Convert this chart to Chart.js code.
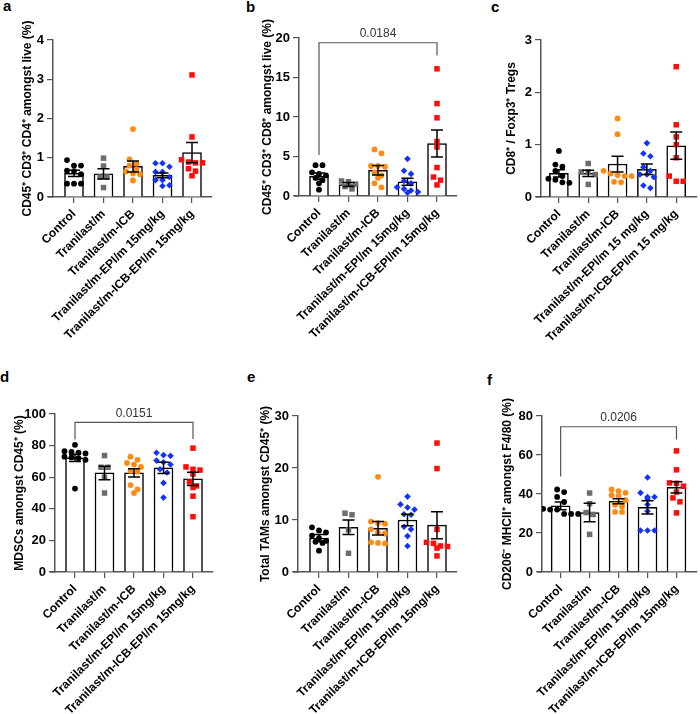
<!DOCTYPE html>
<html><head><meta charset="utf-8">
<script src="https://cdn.jsdelivr.net/npm/chart.js@4.4.1/dist/chart.umd.min.js"></script>
<style>
body{margin:0;background:#fff;width:700px;height:714px;position:relative;overflow:hidden;font-family:"Liberation Sans",Arial,sans-serif;}
.pn{position:absolute;}
.lt{position:absolute;font-family:"Liberation Sans",Arial,sans-serif;font-weight:bold;font-size:15px;line-height:15px;color:#000;}
</style></head><body>
<div class="lt" style="left:3px;top:-2px">a</div>
<div class="lt" style="left:246px;top:-1px">b</div>
<div class="lt" style="left:491px;top:-1px">c</div>
<div class="lt" style="left:0px;top:369px">d</div>
<div class="lt" style="left:247px;top:369px">e</div>
<div class="lt" style="left:487px;top:372px">f</div>
<script>
const FF = '"Liberation Sans", Arial, sans-serif';

// ---------- DATA ----------
const categories = ['Control','Tranilast/m','Tranilast/m-ICB','Tranilast/m-EPI/m 15mg/kg','Tranilast/m-ICB-EPI/m 15mg/kg'];
const categoriesC = ['Control','Tranilast/m','Tranilast/m-ICB','Tranilast/m-EPI/m 15 mg/kg','Tranilast/m-ICB-EPI/m 15 mg/kg'];

const aPoints = [
  [0.94,0.80,0.80,0.67,0.66,0.58,0.34,0.34,0.34],
  [0.99,0.79,0.51,0.51,0.24],
  [1.73,0.96,0.85,0.80,0.70,0.65,0.60,0.58,0.42],
  [0.86,0.86,0.77,0.64,0.64,0.51,0.43,0.43,0.30,0.28],
  [3.11,1.53,0.95,0.89,0.87,0.87,0.72,0.66,0.54]
];
const aMeans = [0.60,0.59,0.78,0.55,1.13];
const aSEM   = [0.08,0.13,0.14,0.06,0.26];

const bPoints = [
  [3.9,3.9,3.0,2.8,2.6,2.3,2.0,1.6,0.8],
  [1.9,1.8,1.5,1.2,0.9],
  [5.9,5.4,3.8,3.8,3.7,3.0,2.6,2.3,1.6,1.1],
  [4.7,3.2,2.8,1.9,1.6,1.1,0.9,0.7,0.5,0.4],
  [16.1,11.7,9.9,6.9,6.2,3.6,2.4,2.0,1.4]
];
const bMeans = [2.5,1.45,3.25,1.8,6.65];
const bSEM   = [0.4,0.25,0.6,0.45,1.7];
const bBracket = {label:'0.0184', y:19.4, leftEnd:5.2, rightEnd:17.8};

const cPoints = [
  [0.88,0.62,0.58,0.50,0.40,0.35,0.33,0.28,0.27],
  [0.64,0.48,0.48,0.43,0.24],
  [1.50,1.20,0.50,0.45,0.42,0.40,0.40,0.29,0.28],
  [1.03,0.83,0.78,0.57,0.50,0.43,0.43,0.38,0.22,0.17],
  [2.49,1.38,1.15,1.00,0.75,0.40,0.30,0.30]
];
const cMeans = [0.45,0.45,0.63,0.53,0.98];
const cSEM   = [0.07,0.06,0.15,0.10,0.26];

const dPoints = [
  [80.5,76.5,76,75.5,75,73,72.5,72,71,52.8],
  [73.7,66.3,66.3,60,50],
  [73,71,69,68,66.5,64,63.5,55,52.3,50],
  [75.5,74,73.5,70.5,69.5,68,65,63,56.4,47.1],
  [78.4,66.5,65,64.5,62,57,54.5,53.5,48,35]
];
const dMeans = [72.2,62.7,62.7,65.9,58.9];
const dSEM   = [2.3,4.3,2.6,3.6,4.2];
const dBracket = {label:'0.0151', y:94.7, leftEnd:83.8, rightEnd:84.2};

const ePoints = [
  [8.6,8.0,7.6,7.0,6.5,6.0,5.8,5.6,4.1],
  [11.3,11.0,8.1,3.6],
  [18.3,9.7,9.4,9.3,8.2,7.6,7.4,5.7,5.6,5.5],
  [14.5,13.0,12.4,12.0,11.1,11.0,8.7,8.2,6.9,5.0],
  [24.8,19.9,8.2,5.7,5.5,5.0,4.9,4.6,3.1]
];
const eMeans = [6.5,8.6,8.4,10.0,9.0];
const eSEM   = [0.7,1.4,1.3,1.1,2.6];

const fPoints = [
  [42.3,41,38.5,35.9,32.4,32,32,29.8,29.8,29.8],
  [40.5,35,30.5,29.5,19.3],
  [42.3,41.5,40.6,39.4,39,36.8,34.5,33.7,30.8,30.8],
  [48.5,40.6,38.5,38.5,37.5,34.6,31.2,21.3,21.3,21.3],
  [62.1,52.4,45.7,45.5,44,41,38,36,30.3]
];
const fMeans = [33.9,30.5,36.3,33.2,43.4];
const fSEM   = [2.0,4.7,1.3,3.4,2.9];
const fBracket = {label:'0.0206', y:74.5, leftEnd:49, rightEnd:68};

// ---------- STYLE / LAYOUT ----------
const groupStyles = [
  {color:'#000000', style:'circle',  r:2.9},
  {color:'#6d6d6d', style:'rect',    r:3.9},
  {color:'#ff8a12', style:'circle',  r:2.9},
  {color:'#1432ff', style:'rectRot', r:3.3},
  {color:'#ff0d0d', style:'rect',    r:3.9}
];

const panels = [
  {x:0,   y:0,   w:235, h:360, L:53,  R:212, T:40,  B:197, cat0:74,  tcx:28,  yMax:4,   yStep:1,  title:'CD45⁺ CD3⁺ CD4⁺ amongst live (%)', cats:categories,  points:aPoints, means:aMeans, sem:aSEM, bracket:null},
  {x:235, y:0,   w:235, h:360, L:299, R:457, T:38,  B:196, cat0:319, tcx:268, yMax:20,  yStep:5,  title:'CD45⁺ CD3⁺ CD8⁺ amongst live (%)', cats:categories,  points:bPoints, means:bMeans, sem:bSEM, bracket:bBracket},
  {x:470, y:0,   w:230, h:360, L:541, R:697, T:40,  B:197, cat0:559, tcx:512, yMax:3,   yStep:1,  title:'CD8⁺ / Foxp3⁺ Tregs',               cats:categoriesC, points:cPoints, means:cMeans, sem:cSEM, bracket:null},
  {x:0,   y:360, w:235, h:354, L:55,  R:213, T:414, B:572, cat0:75,  tcx:20,  yMax:100, yStep:20, title:'MDSCs amongst CD45⁺ (%)',            cats:categories,  points:dPoints, means:dMeans, sem:dSEM, bracket:dBracket},
  {x:235, y:360, w:235, h:354, L:298, R:457, T:416, B:572, cat0:319, tcx:266, yMax:30,  yStep:10, title:'Total TAMs amongst CD45⁺ (%)',       cats:categories,  points:ePoints, means:eMeans, sem:eSEM, bracket:null},
  {x:470, y:360, w:230, h:354, L:542, R:699, T:416, B:572, cat0:561, tcx:508, yMax:80,  yStep:20, title:'CD206⁻ MHCII⁺ amongst F4/80 (%)',    cats:categories,  points:fPoints, means:fMeans, sem:fSEM, bracket:fBracket}
];

const SPACING = 29.5;

function swarm(chart){
  const xs = chart.scales.x, ys = chart.scales.y;
  const ppu = xs.getPixelForValue(1) - xs.getPixelForValue(0);
  const S = 7, TH = 5.5;
  chart.data.datasets.forEach(ds=>{
    if (ds.type !== 'scatter') return;
    const vals = ds.data.map(d=>d.y);
    const idx = vals.map((v,i)=>i).sort((a,b)=>vals[b]-vals[a]);
    const rows = []; let cur = null;
    idx.forEach(i=>{
      const py = ys.getPixelForValue(vals[i]);
      if (cur && Math.abs(py-cur.py0) <= TH) cur.items.push(i);
      else { cur = {py0:py, items:[i]}; rows.push(cur); }
    });
    rows.forEach(r=>{
      const n = r.items.length;
      r.items.forEach((i,j)=>{ ds.data[i] = {x: ds.group + ((j-(n-1)/2)*S)/ppu, y: vals[i]}; });
    });
  });
  chart.update('none');
}

function makeChart(p){
  const div = document.createElement('div');
  div.className = 'pn';
  div.style.left = p.x+'px'; div.style.top = p.y+'px';
  div.style.width = p.w+'px'; div.style.height = p.h+'px';
  const cv = document.createElement('canvas');
  cv.width = p.w; cv.height = p.h;
  cv.style.width = p.w+'px'; cv.style.height = p.h+'px';
  div.appendChild(cv); document.body.appendChild(div);

  const L = p.L - p.x, R = p.R - p.x, T = p.T - p.y, B = p.B - p.y;
  const padLeft = (p.tcx - p.x) - 7.2;
  const yW = L - padLeft;
  const xH = p.h - B;
  const xMin = -(p.cat0 - p.L)/SPACING;
  const xMax = xMin + (R - L)/SPACING;

  const datasets = [{
    type:'bar', data: p.means.map((m,i)=>({x:i,y:m})),
    backgroundColor:'#ffffff', borderColor:'#000000', borderWidth:1.5,
    barThickness:19, order:2
  }];
  p.points.forEach((vals,gi)=>{
    const st = groupStyles[gi];
    datasets.push({
      type:'scatter', group:gi, data: vals.map(v=>({x:gi,y:v})),
      pointStyle:st.style, pointRadius:st.r, pointHoverRadius:st.r,
      pointBackgroundColor:st.color, pointBorderColor:st.color, pointBorderWidth:0,
      order:1
    });
  });

  const extras = {
    id:'extras'+p.x+'_'+p.y,
    afterDatasetsDraw(chart){
      const {ctx, scales:{x,y}} = chart;
      ctx.save(); ctx.strokeStyle='#000'; ctx.lineWidth=1.5;
      p.means.forEach((m,i)=>{
        const px = x.getPixelForValue(i);
        const top = y.getPixelForValue(m+p.sem[i]), bot = y.getPixelForValue(m-p.sem[i]);
        const cw = 6;
        ctx.beginPath();
        ctx.moveTo(px,top); ctx.lineTo(px,bot);
        ctx.moveTo(px-cw,top); ctx.lineTo(px+cw,top);
        ctx.moveTo(px-cw,bot); ctx.lineTo(px+cw,bot);
        ctx.stroke();
      });
      ctx.restore();
    },
    afterDraw(chart){
      const {ctx, scales:{x,y}, chartArea:ca} = chart;
      // y-axis title (drawn without width compression)
      ctx.save();
      ctx.translate(p.tcx - p.x, (ca.top+ca.bottom)/2);
      ctx.rotate(-Math.PI/2);
      ctx.font = 'bold 12px '+FF; ctx.fillStyle='#000'; ctx.textAlign='center'; ctx.textBaseline='middle';
      ctx.fillText(p.title, 0, 0);
      ctx.restore();
      // small extension of the x axis line left of the y axis
      ctx.save(); ctx.strokeStyle='#555'; ctx.lineWidth=1.5;
      ctx.beginPath(); ctx.moveTo(ca.left-5, ca.bottom); ctx.lineTo(ca.left, ca.bottom); ctx.stroke();
      ctx.restore();
      const o = p.bracket; if (!o) return;
      const x0 = x.getPixelForValue(0), x1 = x.getPixelForValue(4);
      const yl = y.getPixelForValue(o.y), y0 = y.getPixelForValue(o.leftEnd), y1 = y.getPixelForValue(o.rightEnd);
      ctx.save(); ctx.strokeStyle='#555'; ctx.lineWidth=1.2;
      ctx.beginPath(); ctx.moveTo(x0,y0); ctx.lineTo(x0,yl); ctx.lineTo(x1,yl); ctx.lineTo(x1,y1); ctx.stroke();
      ctx.fillStyle='#333'; ctx.font='12px '+FF; ctx.textAlign='center'; ctx.textBaseline='bottom';
      ctx.fillText(o.label,(x0+x1)/2, yl-3);
      ctx.restore();
    }
  };

  const axisGrid = {drawOnChartArea:false, drawTicks:true, tickLength:6, color:'#555', lineWidth:1.2, offset:false};
  const axisBorder = {display:true, color:'#555', width:1.5};

  const chart = new Chart(cv, {
    type:'bar',
    data:{datasets},
    options:{
      responsive:false, animation:false, events:[],
      layout:{padding:{left:padLeft, top:T, right:p.w-R, bottom:0}},
      plugins:{legend:{display:false}, tooltip:{enabled:false}},
      scales:{
        x:{type:'linear', offset:false, min:xMin, max:xMax,
           afterBuildTicks:s=>{ s.ticks=[0,1,2,3,4].map(v=>({value:v})); },
           afterFit:s=>{ s.height = xH; },
           grid:axisGrid, border:axisBorder,
           ticks:{autoSkip:false, minRotation:45, maxRotation:45, padding:4, color:'#000',
                  font:{family:FF, size:12, weight:'bold'}, callback:(v)=>p.cats[v]}},
        y:{type:'linear', min:0, max:p.yMax,
           afterFit:s=>{ s.width = yW; },
           grid:axisGrid, border:axisBorder,
           title:{display:false, text:p.title},
           ticks:{stepSize:p.yStep, padding:3, color:'#000', font:{family:FF, size:13, weight:'bold'}}}
      }
    },
    plugins:[extras]
  });
  swarm(chart);
  return chart;
}

panels.forEach(makeChart);
</script>
</body></html>
